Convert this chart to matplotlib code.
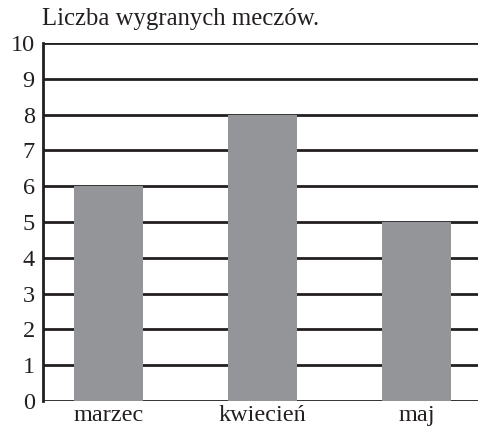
import matplotlib
matplotlib.use("Agg")
import matplotlib.pyplot as plt

categories = ["marzec", "kwiecień", "maj"]
values = [6, 8, 5]
yticks = list(range(0, 11))
title = "Liczba wygranych meczów."

plt.rcParams['font.family'] = ['Liberation Serif', 'DejaVu Serif']

fig = plt.figure(figsize=(4.78, 4.30), dpi=100)
ax = fig.add_axes([43/478, 29/430, 435/478, 358/430])

x = list(range(len(categories)))
for t in yticks:
    ax.axhline(t, color='#231f20', lw=2, zorder=1)
ax.bar(x, values, width=0.45, color='#939598', zorder=2)

ax.set_xlim(-0.425, 2.40)
ax.set_ylim(0, 10)
ax.set_yticks(yticks)
ax.set_xticks(x)
ax.set_xticklabels(categories)
ax.tick_params(axis='y', length=0, labelsize=17.5, colors='#231f20', pad=6)
ax.tick_params(axis='x', length=0, labelsize=17.5, colors='#231f20', pad=3)
for s in ['top', 'right']:
    ax.spines[s].set_visible(False)
ax.spines['bottom'].set_visible(False)
ax.spines['left'].set_linewidth(2)
ax.spines['left'].set_color('#231f20')

fig.text(42/478, 1 - 19/430, title, fontsize=17.8, va='center', ha='left', color='#231f20')

fig.savefig("out.png", dpi=100)
